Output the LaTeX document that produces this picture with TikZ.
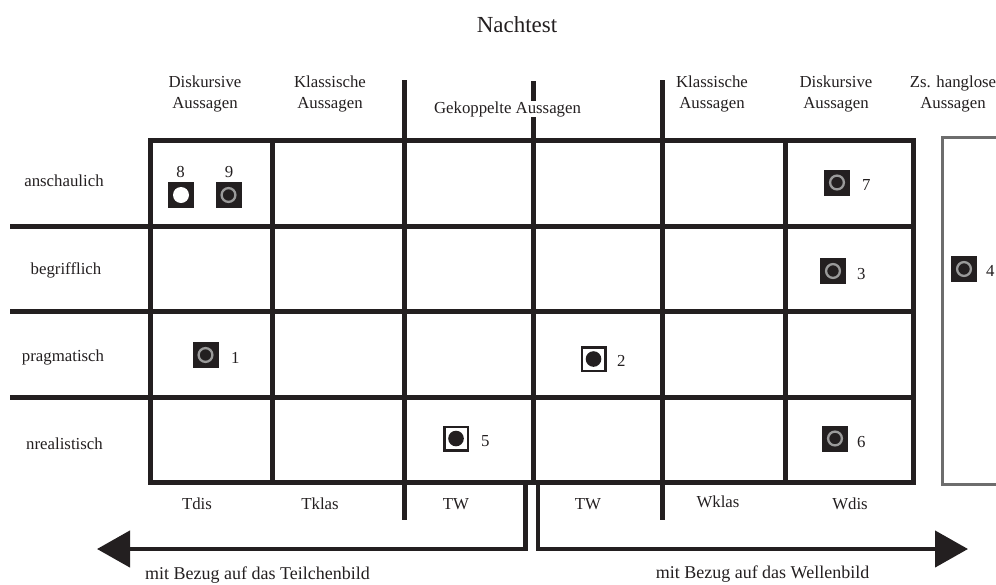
\documentclass[tikz,border=0pt]{standalone}
\usepackage{fontspec}
\setmainfont{Liberation Serif}
\usetikzlibrary{arrows.meta}
\definecolor{ink}{HTML}{231F20}
\definecolor{ringgray}{HTML}{9A9A9A}
\definecolor{boxgray}{HTML}{6D6D6D}
\tikzset{
  gridline/.style={draw=ink, line width=5pt},
  arrowline/.style={draw=ink, line width=4.5pt, line join=miter, -{Triangle[length=33pt,width=36pt]}},
  txt/.style={inner sep=0pt, anchor=base, text=ink, font=\fontsize{16.8}{21}\selectfont},
  hdr/.style={txt, align=center},
  num/.style={txt, anchor=base west},
  mkring/.style={fill=ink, minimum size=26pt, inner sep=0pt,
    path picture={\draw[ringgray, line width=2.3pt] (path picture bounding box.center) circle (6.9pt);}},
  mkwhite/.style={fill=ink, minimum size=26pt, inner sep=0pt,
    path picture={\fill[white] (path picture bounding box.center) circle (8pt);}},
  mkdot/.style={draw=ink, line width=2.5pt, fill=white, minimum size=23.5pt, inner sep=0pt,
    path picture={\fill[ink] (path picture bounding box.center) circle (7.8pt);}},
}
\begin{document}
\begin{tikzpicture}[x=1pt,y=-1pt]
\useasboundingbox (0,0) rectangle (996,584);
\clip (0,0) rectangle (996,584);

% title
\node[txt, font=\fontsize{23}{26}\selectfont] (title) at (517,32) {Nachtest};

% grid
\draw[gridline] (150,140) rectangle (913,482);
\foreach \yy in {226,311,397}{
  \draw[gridline] (10,\yy) -- (913,\yy);
}
\draw[gridline] (272,140) -- (272,482);
\draw[gridline] (404,80) -- (404,520);
\draw[gridline] (533,81) -- (533,482);
\draw[gridline] (662,80) -- (662,520);
\draw[gridline] (785,140) -- (785,482);

% gray box
\draw[boxgray, line width=3pt] (942,137) rectangle (1010,484);

% column headers
\node[hdr] (h1) at (205,108) {Diskursive\\Aussagen};
\node[hdr] (h2) at (330,108) {Klassische\\Aussagen};
\node[txt, fill=white, inner ysep=0.5pt, inner xsep=0pt] (h3) at (507.5,113) {Gekoppelte Aussagen};
\node[hdr] (h4) at (712,108) {Klassische\\Aussagen};
\node[hdr] (h5) at (836,108) {Diskursive\\Aussagen};
\node[hdr] (h6) at (953,108) {Zs. hanglose\\Aussagen};

% row labels
\node[txt] (r1) at (64,186) {anschaulich};
\node[txt] (r2) at (66,274) {begrifflich};
\node[txt] (r3) at (63,361) {pragmatisch};
\node[txt] (r4) at (64.5,449) {nrealistisch};

% bottom labels
\node[txt] (b1) at (197,509) {Tdis};
\node[txt] (b2) at (320,509) {Tklas};
\node[txt] (b3) at (456,509) {TW};
\node[txt] (b4) at (588,509) {TW};
\node[txt] (b5) at (718,507) {Wklas};
\node[txt] (b6) at (850,509) {Wdis};

% arrows
\coordinate (lstart) at (525.5,482);
\coordinate (lend) at (97,549);
\coordinate (rstart) at (538,482);
\coordinate (rend) at (968,549);
\draw[arrowline] (lstart) |- (lend);
\draw[arrowline] (rstart) |- (rend);
\node[txt, font=\fontsize{18}{21}\selectfont] (tb) at (257.5,579) {mit Bezug auf das Teilchenbild};
\node[txt, font=\fontsize{18}{21}\selectfont] (wb) at (762.5,578) {mit Bezug auf das Wellenbild};

% markers
\node[mkwhite] (m8) at (181,195) {};
\node[txt] (l8) at (180.5,177) {8};
\node[mkring] (m9) at (228.5,195) {};
\node[txt] (l9) at (229,177) {9};
\node[mkring] (m7) at (837,182.5) {};
\node[num] (l7) at (862,190) {7};
\node[mkring] (m3) at (833,271) {};
\node[num] (l3) at (857,279) {3};
\node[mkring] (m4) at (964,269) {};
\node[num] (l4) at (986,276) {4};
\node[mkring] (m1) at (205.5,355) {};
\node[num] (l1) at (231,363) {1};
\node[mkdot] (m2) at (593.5,359) {};
\node[num] (l2) at (617,366) {2};
\node[mkdot] (m5) at (456,438.5) {};
\node[num] (l5) at (481,446) {5};
\node[mkring] (m6) at (835,438.5) {};
\node[num] (l6) at (857,447) {6};
\end{tikzpicture}
\end{document}
